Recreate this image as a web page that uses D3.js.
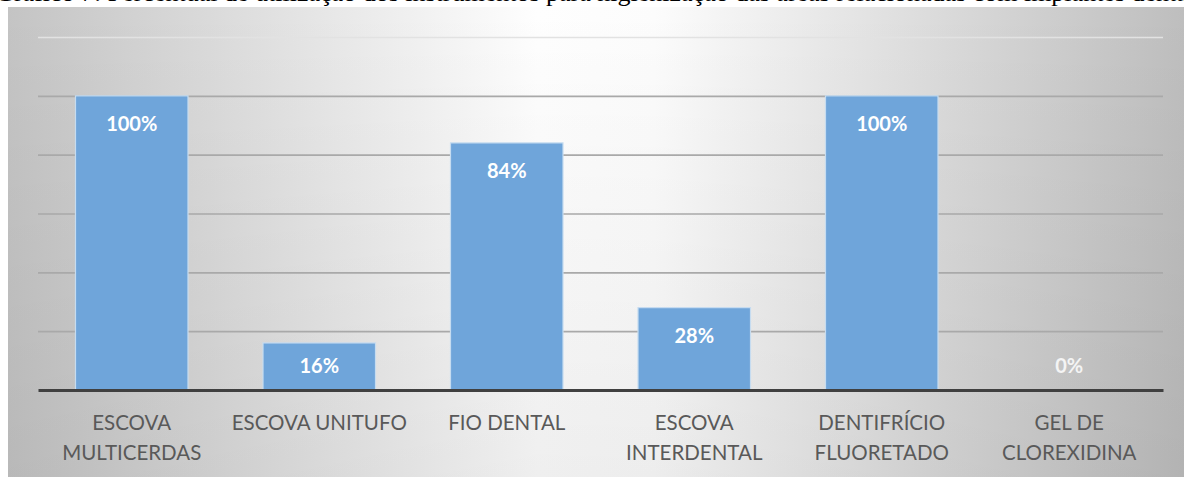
<html>
<head>
<script src="https://d3js.org/d3.v7.min.js"></script>
<style>
  body { margin: 0; background: #fff; }
  svg { display: block; }
</style>
</head>
<body>
<svg id="chart" width="1184" height="477"></svg>
<script>
// data
const categories = [
  ["ESCOVA", "MULTICERDAS"],
  ["ESCOVA UNITUFO"],
  ["FIO DENTAL"],
  ["ESCOVA", "INTERDENTAL"],
  ["DENTIFRÍCIO", "FLUORETADO"],
  ["GEL DE", "CLOREXIDINA"]
];
const values = [100, 16, 84, 28, 100, 0];
const yTicks = [0, 20, 40, 60, 80, 100, 120];
const titleText = "Gráfico 7: Percentual de utilização dos instrumentos para higienização das áreas relacionadas com implantes dentários";

const svg = d3.select("#chart");
const width = +svg.attr("width");
const height = +svg.attr("height");

const margin = {top: 37, right: 21, bottom: 87, left: 38};

const defs = svg.append("defs");
const hg = defs.append("linearGradient").attr("id", "bgH").attr("x1", 0).attr("x2", 1).attr("y1", 0).attr("y2", 0);
hg.append("stop").attr("offset", "0%").attr("stop-color", "#c4c4c4");
hg.append("stop").attr("offset", "45%").attr("stop-color", "#fefefe");
hg.append("stop").attr("offset", "55%").attr("stop-color", "#fcfcfc");
hg.append("stop").attr("offset", "100%").attr("stop-color", "#bebebe");
const vg = defs.append("linearGradient").attr("id", "bgV").attr("x1", 0).attr("x2", 0).attr("y1", 0).attr("y2", 1);
vg.append("stop").attr("offset", "0%").attr("stop-color", "#000").attr("stop-opacity", 0);
vg.append("stop").attr("offset", "100%").attr("stop-color", "#000").attr("stop-opacity", 0.06);

// background
svg.append("rect").attr("x", 8).attr("y", 7).attr("width", width - 8).attr("height", height - 7).attr("fill", "url(#bgH)");
svg.append("rect").attr("x", 8).attr("y", 7).attr("width", width - 8).attr("height", height - 7).attr("fill", "url(#bgV)");

// title, only its lower edge shows at the top of the picture
svg.append("text")
  .attr("x", 611)
  .attr("y", 1)
  .attr("text-anchor", "middle")
  .attr("font-family", "Liberation Serif, serif")
  .attr("font-size", 26)
  .attr("fill", "#000")
  .text(titleText);

const x = d3.scaleBand()
  .domain(d3.range(categories.length))
  .range([margin.left, width - margin.right])
  .paddingInner(0.4)
  .paddingOuter(0.2);

const y = d3.scaleLinear()
  .domain([0, 120])
  .range([height - margin.bottom, margin.top]);

// gridlines
const grid = svg.append("g")
  .attr("transform", "translate(" + margin.left + ",0)")
  .call(d3.axisLeft(y).tickValues(yTicks.filter(d => d > 0)).tickSize(-(width - margin.left - margin.right)).tickFormat(""));
grid.select(".domain").remove();
grid.selectAll(".tick line")
  .attr("stroke", d => d === 120 ? "#e2e2e2" : "#a9a9a9")
  .attr("stroke-width", 1.6);

// bars
svg.append("g").selectAll("rect")
  .data(values)
  .join("rect")
  .attr("x", (d, i) => x(i))
  .attr("y", d => y(d))
  .attr("width", x.bandwidth())
  .attr("height", d => y(0) - y(d))
  .attr("fill", "#6fa5da")
  .attr("stroke", "#c6dcf0")
  .attr("stroke-width", d => d > 0 ? 1.2 : 0);

// value labels
svg.append("g").selectAll("text")
  .data(values)
  .join("text")
  .attr("x", (d, i) => x(i) + x.bandwidth() / 2)
  .attr("y", d => Math.min(y(d) + 35, y(0) - 17))
  .attr("text-anchor", "middle")
  .attr("font-family", "Lato, sans-serif")
  .attr("font-weight", "bold")
  .attr("font-size", 20)
  .attr("fill", d => d > 0 ? "#ffffff" : "#f4f4f4")
  .text(d => d + "%");

// base axis
const xAxis = svg.append("g")
  .attr("transform", "translate(0," + y(0) + ")")
  .call(d3.axisBottom(x).tickSize(0).tickFormat(""));
xAxis.select(".domain").attr("stroke", "#404040").attr("stroke-width", 3);

// category labels
const cat = svg.append("g").selectAll("text")
  .data(categories)
  .join("text")
  .attr("x", (d, i) => x(i) + x.bandwidth() / 2)
  .attr("y", y(0) + 40)
  .attr("text-anchor", "middle")
  .attr("font-family", "Lato, sans-serif")
  .attr("font-size", 20.5)
  .attr("fill", "#595959");
cat.selectAll("tspan")
  .data((d, i) => d.map(t => ({t, i})))
  .join("tspan")
  .attr("x", d => x(d.i) + x.bandwidth() / 2)
  .attr("dy", (d, j) => j === 0 ? 0 : 29.5)
  .text(d => d.t);
</script>
</body>
</html>
